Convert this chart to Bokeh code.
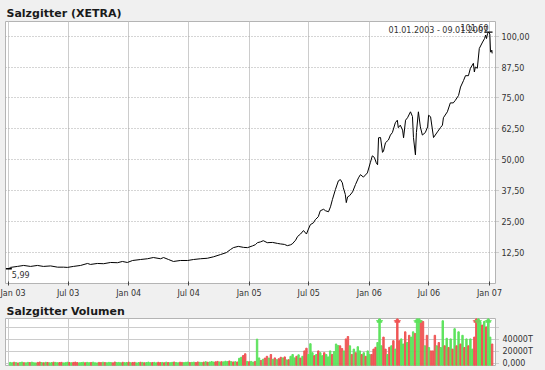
import pandas as pd
from bokeh.plotting import figure
from bokeh.layouts import column
from bokeh.models import Range1d, FixedTicker, Label, ColumnDataSource
from bokeh.embed import file_html
from bokeh.resources import INLINE

TITLE = "Salzgitter (XETRA)"
VOL_TITLE = "Salzgitter Volumen"
PERIOD = "01.01.2003 - 09.01.2007"

PRICE_DATES = [
    "2003-01-02", "2003-01-07", "2003-01-28", "2003-02-16", "2003-03-09", "2003-03-30", "2003-04-17",
    "2003-05-09", "2003-05-30", "2003-06-17", "2003-06-29", "2003-07-17", "2003-08-08", "2003-08-29",
    "2003-09-07", "2003-09-28", "2003-10-17", "2003-11-07", "2003-11-28", "2003-12-13", "2003-12-28",
    "2004-01-13", "2004-02-06", "2004-02-27", "2004-03-16", "2004-04-07", "2004-04-16", "2004-05-01",
    "2004-05-16", "2004-06-06", "2004-06-28", "2004-07-16", "2004-08-06", "2004-08-27", "2004-09-15",
    "2004-10-06", "2004-10-24", "2004-11-05", "2004-11-14", "2004-11-29", "2004-12-15", "2004-12-27",
    "2005-01-11", "2005-01-20", "2005-01-26", "2005-02-04", "2005-02-13", "2005-02-25", "2005-03-13",
    "2005-03-28", "2005-04-06", "2005-04-18", "2005-04-27", "2005-05-06", "2005-05-12", "2005-05-22",
    "2005-05-28", "2005-06-06", "2005-06-15", "2005-06-24", "2005-06-30", "2005-07-06", "2005-07-15",
    "2005-07-21", "2005-07-30", "2005-08-05", "2005-08-15", "2005-08-21", "2005-08-30", "2005-09-05",
    "2005-09-11", "2005-09-20", "2005-09-29", "2005-10-05", "2005-10-11", "2005-10-14", "2005-10-20",
    "2005-10-23", "2005-10-27", "2005-11-02", "2005-11-11", "2005-11-20", "2005-11-29", "2005-12-05",
    "2005-12-14", "2005-12-26", "2006-01-04", "2006-01-10", "2006-01-16", "2006-01-19", "2006-01-22",
    "2006-01-26", "2006-01-29", "2006-02-04", "2006-02-10", "2006-02-13", "2006-02-19", "2006-02-28",
    "2006-03-06", "2006-03-12", "2006-03-21", "2006-03-27", "2006-03-30", "2006-04-05", "2006-04-12",
    "2006-04-15", "2006-04-21", "2006-04-27", "2006-05-06", "2006-05-12", "2006-05-15", "2006-05-21",
    "2006-05-24", "2006-05-30", "2006-06-05", "2006-06-11", "2006-06-20", "2006-06-27", "2006-06-30",
    "2006-07-06", "2006-07-15", "2006-07-27", "2006-08-05", "2006-08-11", "2006-08-14", "2006-08-26",
    "2006-09-04", "2006-09-13", "2006-09-19", "2006-09-29", "2006-10-05", "2006-10-14", "2006-10-20",
    "2006-10-29", "2006-11-04", "2006-11-13", "2006-11-16", "2006-11-19", "2006-11-25", "2006-12-01",
    "2006-12-11", "2006-12-17", "2006-12-20", "2006-12-23", "2006-12-26", "2006-12-29", "2007-01-02",
    "2007-01-04", "2007-01-05", "2007-01-08", "2007-01-09",
]
PRICE = [
    5.99, 6.5, 6.9, 7.3, 6.9, 7.3, 6.9,
    7.1, 6.6, 6.6, 6.5, 6.9, 7.3, 8.1,
    7.7, 8.1, 8.0, 8.5, 8.4, 8.9, 8.5,
    9.3, 9.7, 10.0, 10.5, 10.0, 10.5, 9.7,
    8.9, 9.3, 9.3, 9.7, 10.0, 10.2, 10.8,
    11.7, 12.5, 13.7, 14.5, 15.0, 14.6, 14.5,
    15.2, 15.7, 16.5, 16.8, 17.3, 16.5, 16.6,
    16.2, 16.0, 15.8, 15.3, 15.6, 16.0, 17.5,
    19.0, 20.0, 21.4, 20.0, 22.0, 23.8, 24.5,
    25.8, 27.0, 29.4, 30.0, 29.4, 29.0, 31.0,
    34.0, 38.0, 41.5, 42.0, 40.7, 38.7, 36.0,
    32.7, 35.0, 35.5, 37.0, 40.0, 42.7, 44.0,
    43.0, 44.7, 48.8, 51.6, 51.0, 50.0, 48.8,
    48.0, 58.9, 59.0, 53.0, 53.5, 56.9, 58.0,
    60.0, 61.0, 65.0, 66.0, 63.0, 64.0, 62.0,
    58.9, 66.0, 67.0, 69.4, 67.5, 59.0, 52.0,
    61.0, 69.4, 63.3, 60.0, 61.0, 63.3, 68.0,
    67.4, 59.0, 61.3, 63.0, 64.0, 67.0, 69.4,
    73.0, 73.0, 74.0, 76.0, 79.4, 82.0, 84.0,
    84.0, 87.0, 89.0, 85.5, 87.5, 87.0, 95.0,
    97.6, 99.0, 100.4, 99.0, 101.0, 101.6, 100.8,
    94.0, 93.5, 94.3, 93.0,
]

# volume (in T), one bar every 6 days ending 09.01.2007
VOL_END = "2007-01-09"
VOLUME = [
    1800, 1200, 2100, 1500, 900, 1700, 2300, 1400, 1100, 1900,
    1600, 2200, 1300, 1000, 1800, 2400, 1500, 1200, 2000, 1700,
    1100, 1500, 2200, 1800, 1300, 1600, 1900, 1000, 1400, 2100,
    1700, 1200, 1800, 2300, 1500, 1100, 1600, 2000, 1300, 1900,
    1400, 1700, 2200, 1200, 1000, 1800, 1500, 2100, 1600, 1300,
    1900, 1700, 1100, 2400, 1500, 1800, 1200, 2000, 1400, 1600,
    2200, 1300, 1700, 1900, 1000, 1500, 2100, 1800, 1200, 1600,
    2300, 1400, 1700, 1900, 1100, 2000, 1500, 1800, 1300, 2200,
    1600, 1400, 1900, 2500, 1700, 1200, 2100, 1800, 1500, 2000,
    2400, 1600, 1900, 2200, 1700, 2600, 2000, 1800, 2300, 2900,
    2100, 2500, 3200, 2400, 2800, 3500, 2600, 3000, 2700, 3800,
    3100, 4200, 3000, 2600,
    3000, 2500, 8700, 10400, 13300, 16200, 3500, 2900, 3500, 2300,
    3500, 40600, 9300, 5000, 7000, 9000, 12000, 9000, 15000, 7000,
    9300, 6400, 8000, 10400, 9300, 11000, 6000, 6400, 12000, 15000,
    9300, 12000, 14500, 9000, 12000, 21000, 25500, 15000, 33000, 18000,
    13000, 15000, 21000, 18000, 13000, 18000, 15000, 11000, 21000, 15000,
    20000, 32500, 30000, 29500, 25000, 21000, 41000, 45000, 29500, 15000,
    24000, 18000, 28000, 21000, 15000, 18000, 12000, 21000, 15000, 15000,
    24000, 27000, 35000, 95000, 29500, 44000, 24000, 15000, 27000, 29500,
    38000, 24000, 95000, 38000, 41000, 32500, 52800, 35000, 47000, 44000,
    52800, 50000, 95000, 95000, 72000, 70000, 29500, 47000, 26700, 21000,
    21000, 47000, 29500, 35000, 26700, 73000, 29500, 42000, 26700, 41000,
    24000, 58000, 29500, 52800, 32500, 47000, 26700, 41000, 29500, 41000,
    24000, 44000, 95000, 95000, 69000, 64000, 70000, 61000, 95000, 44000, 32500,
]
VOL_DIR = (
    "uududuuduu" "duuuddudud" "uuduudduuu" "duddduuudu" "uduuuddudu" "uudduuuduu"
    "dudduududu" "uuduuddudu" "duuduudduu" "uduudduudu" "duuudduduu" "udud"
    "uduudduduu" "duududdudu" "duddududuu" "udududduuu" "duduuduuud" "uuudduddud"
    "uduududuud" "dduuuddudu" "dudduududu" "uduuddudud" "dduduududu" "dududududu"
    "udduududuud"
)

X_TICK_DATES = ["2003-01-01", "2003-07-01", "2004-01-01", "2004-07-01", "2005-01-01",
                "2005-07-01", "2006-01-01", "2006-07-01", "2007-01-01"]
X_TICK_LABELS = ["Jan 03", "Jul 03", "Jan 04", "Jul 04", "Jan 05", "Jul 05", "Jan 06", "Jul 06", "Jan 07"]
Y_TICKS = [12.5, 25.0, 37.5, 50.0, 62.5, 75.0, 87.5, 100.0]
VOL_TICKS = [0, 20000, 40000, 60000]
VOL_TICK_LABELS = ["0,000", "20000T", "40000T", ""]

BG = "#f0f0f0"
FONT = "DejaVu Sans"
TXT = "#333333"
GREEN = "#5ee35e"
RED = "#ef5656"
DAY = 86400000.0


def ms(d):
    return pd.Timestamp(d).value / 1e6


x_start = ms("2003-01-01") - 9.1 * DAY
x_end = ms("2007-01-01") + 18.2 * DAY
xr = Range1d(x_start, x_end)

# ---------- price chart ----------
p = figure(width=545, height=300, x_axis_type="datetime", x_range=xr,
           y_range=Range1d(0, 105.9), y_axis_location="right",
           output_backend="svg", toolbar_location=None,
           min_border_left=5, min_border_right=50, min_border_top=21, min_border_bottom=16)
p.background_fill_color = "white"
p.border_fill_color = BG
p.outline_line_color = "#b4b4b4"

p.title.text = TITLE
p.title.text_font = FONT
p.title.text_font_style = "bold"
p.title.text_font_size = "11px"
p.title.text_color = "#1a1a1a"
p.title.align = "left"
p.title.offset = 1
p.title.standoff = 3

xt = [ms(d) for d in X_TICK_DATES]
p.xaxis.ticker = FixedTicker(ticks=xt)
p.xaxis.major_label_overrides = {t: l for t, l in zip(xt, X_TICK_LABELS)}
p.xaxis.axis_line_color = None
p.xaxis.major_tick_in = 2
p.xaxis.major_tick_out = 2
p.xaxis.major_tick_line_color = "#444444"
p.xaxis.minor_tick_line_color = None
p.xaxis.major_label_standoff = 3
p.xaxis.major_label_text_font = FONT
p.xaxis.major_label_text_font_size = "8px"
p.xaxis.major_label_text_color = TXT

p.yaxis.ticker = FixedTicker(ticks=Y_TICKS)
p.yaxis.major_label_overrides = {t: f"{t:.2f}".replace(".", ",") for t in Y_TICKS}
p.yaxis.axis_line_color = None
p.yaxis.major_tick_in = 0
p.yaxis.major_tick_out = 3
p.yaxis.major_tick_line_color = "#aaaaaa"
p.yaxis.major_tick_line_dash = "1 1"
p.yaxis.minor_tick_line_color = None
p.yaxis.major_label_standoff = 3
p.yaxis.major_label_text_font = FONT
p.yaxis.major_label_text_font_size = "8px"
p.yaxis.major_label_text_color = TXT

p.xgrid.grid_line_color = "#cccccc"
p.ygrid.grid_line_color = "#aaaaaa"
p.ygrid.grid_line_dash = "1 2"

pdates = [ms(d) for d in PRICE_DATES]
src = ColumnDataSource(dict(x=pdates, y=PRICE))
p.line("x", "y", source=src, color="black", line_width=1)

imax = max(range(len(PRICE)), key=lambda i: PRICE[i])
imin = min(range(len(PRICE)), key=lambda i: PRICE[i])
p.scatter([pdates[imax]], [PRICE[imax]], marker="dash", size=8, color="black", line_width=1.2)
p.scatter([pdates[imin]], [PRICE[imin]], marker="dash", size=6, color="black", line_width=1.5)

fmt = lambda v: f"{v:.2f}".replace(".", ",")
p.add_layout(Label(x=pdates[-1], y=105.9, text=PERIOD, text_align="right", text_baseline="middle",
                   x_offset=-4, y_offset=-9, text_font=FONT, text_font_size="8px", text_color=TXT))
p.add_layout(Label(x=pdates[imax], y=PRICE[imax], text=fmt(PRICE[imax]), text_align="right",
                   text_baseline="bottom", y_offset=1, text_font=FONT, text_font_size="8px",
                   text_color=TXT))
p.add_layout(Label(x=pdates[imin], y=PRICE[imin], text=fmt(PRICE[imin]), text_align="left",
                   text_baseline="top", x_offset=3, y_offset=-2, text_font=FONT,
                   text_font_size="8px", text_color=TXT))

# ---------- volume chart ----------
VOL_TOP = 75000
VOL_FLOOR = -3333
p2 = figure(width=545, height=70, x_axis_type="datetime", x_range=xr,
            y_range=Range1d(VOL_FLOOR, VOL_TOP), y_axis_location="right",
            output_backend="svg", toolbar_location=None,
            min_border_left=5, min_border_right=50, min_border_top=18, min_border_bottom=5)
p2.background_fill_color = "white"
p2.border_fill_color = BG
p2.outline_line_color = "#b4b4b4"
p2.title.text = VOL_TITLE
p2.title.text_font = FONT
p2.title.text_font_style = "bold"
p2.title.text_font_size = "11px"
p2.title.text_color = "#1a1a1a"
p2.title.align = "left"
p2.title.offset = 1
p2.title.standoff = 2

p2.xaxis.visible = False
p2.xgrid.ticker = FixedTicker(ticks=xt)
p2.xgrid.grid_line_color = "#cccccc"
p2.ygrid.grid_line_color = "#cccccc"

p2.yaxis.ticker = FixedTicker(ticks=VOL_TICKS)
p2.yaxis.major_label_overrides = dict(zip(VOL_TICKS, VOL_TICK_LABELS))
p2.yaxis.axis_line_color = None
p2.yaxis.major_tick_in = 0
p2.yaxis.major_tick_out = 3
p2.yaxis.major_tick_line_color = "#aaaaaa"
p2.yaxis.major_tick_line_dash = "1 1"
p2.yaxis.minor_tick_line_color = None
p2.yaxis.major_label_standoff = 4
p2.yaxis.major_label_text_font = FONT
p2.yaxis.major_label_text_font_size = "8px"
p2.yaxis.major_label_text_color = TXT

assert len(VOLUME) == len(VOL_DIR)
vdates = [ms(d) for d in pd.date_range(end=VOL_END, periods=len(VOLUME), freq="6D")]
cap = VOL_TOP * 0.95
vcol = [GREEN if c == "u" else RED for c in VOL_DIR]
vtop = [min(v, cap) for v in VOLUME]
p2.vbar(x="x", top="top", bottom=VOL_FLOOR, width=4.3 * DAY, color="c",
        source=ColumnDataSource(dict(x=vdates, top=vtop, c=vcol)))
over = [i for i, v in enumerate(VOLUME) if v > VOL_TOP]
p2.scatter([vdates[i] for i in over], [cap for i in over], marker="triangle", size=5,
           color=[vcol[i] for i in over])
p2.scatter([vdates[i] for i in over], [cap for i in over], marker="dash", size=7,
           color=[vcol[i] for i in over])

layout = column(p, p2, spacing=0)
layout.background = BG
open("out.html", "w").write(file_html(layout, INLINE))
